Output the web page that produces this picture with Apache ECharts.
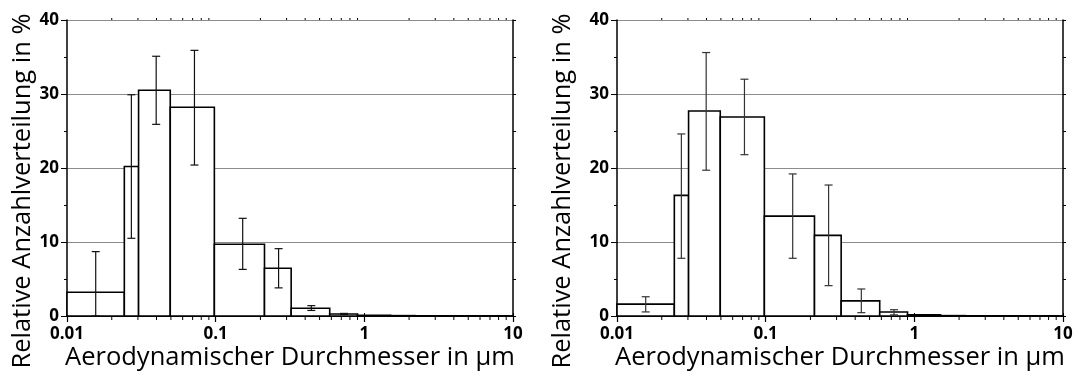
<!DOCTYPE html>
<html>
<head>
<meta charset="utf-8">
<script src="https://cdn.jsdelivr.net/npm/echarts@6/dist/echarts.min.js"></script>
<style>
  html, body { margin: 0; padding: 0; background: #fff; }
  #chart { width: 1076px; height: 374px; }
</style>
</head>
<body>
<div id="chart"></div>
<script>
// bin edges (µm) and bin centres used for the error bars
var binEdges = [0.01, 0.0243, 0.0303, 0.0495, 0.098, 0.213, 0.322, 0.585, 0.9, 1.5, 2.2, 9.3];
var binMids = [0.0156, 0.0271, 0.0398, 0.072, 0.152, 0.265, 0.44, 0.73, 1.16, 1.8, 4.5];

// left diagram
var leftValues = [3.2, 20.2, 30.5, 28.2, 9.7, 6.45, 1.05, 0.28, 0.1, 0.05, 0.02];
var leftLow = [0, 10.5, 25.9, 20.4, 6.3, 3.8, 0.75, 0.2, 0.1, 0.05, 0.02];
var leftHigh = [8.7, 29.9, 35.1, 35.9, 13.2, 9.1, 1.4, 0.35, 0.1, 0.05, 0.02];

// right diagram
var rightValues = [1.6, 16.3, 27.7, 26.9, 13.5, 10.9, 2.05, 0.55, 0.15, 0.05, 0.02];
var rightLow = [0.55, 7.8, 19.7, 21.8, 7.8, 4.1, 0.45, 0.15, 0.15, 0.05, 0.02];
var rightHigh = [2.6, 24.6, 35.6, 32.0, 19.2, 17.7, 3.65, 0.85, 0.15, 0.05, 0.02];

var minorTicks = [0.02, 0.03, 0.04, 0.05, 0.06, 0.07, 0.08, 0.09,
                  0.2, 0.3, 0.4, 0.5, 0.6, 0.7, 0.8, 0.9,
                  2, 3, 4, 5, 6, 7, 8, 9];
var xTickLabels = ['0.01', '0.1', '1', '10'];

var xTitle = 'Aerodynamischer Durchmesser in µm';
var yTitle = 'Relative Anzahlverteilung in %';

var chart = echarts.init(document.getElementById('chart'));

var grids = [
  { left: 67, top: 20, width: 446, height: 296 },
  { left: 617, top: 20, width: 446, height: 296 }
];

function makeAxes(i) {
  var xs = [
    {
      type: 'log', logBase: 10, min: 0.01, max: 10, gridIndex: i, position: 'bottom',
      axisLine: { lineStyle: { color: '#000', width: 1.5 } },
      axisTick: { show: true, inside: false, length: 6, lineStyle: { color: '#000', width: 1.2 } },
      axisLabel: {
        color: '#000', fontWeight: 'bold', fontSize: 17, fontFamily: 'Open Sans', margin: 10,
        formatter: function (v) {
          var idx = Math.round(Math.log10(v)) + 2;
          return xTickLabels[idx] || '';
        }
      },
      splitLine: { show: false }
    },
    {
      type: 'log', logBase: 10, min: 0.01, max: 10, gridIndex: i, position: 'top',
      axisLine: { lineStyle: { color: '#000', width: 1.5 } },
      axisTick: { show: true, inside: false, length: 3, lineStyle: { color: '#000' } },
      axisLabel: { show: false },
      splitLine: { show: false }
    }
  ];
  var ys = [
    {
      type: 'value', min: 0, max: 40, interval: 10, gridIndex: i, position: 'left',
      axisLine: { show: true, lineStyle: { color: '#000', width: 1.5 } },
      axisTick: { show: true, inside: false, length: 6, lineStyle: { color: '#000' } },
      minorTick: { show: true, splitNumber: 2, length: 3, lineStyle: { color: '#000' } },
      axisLabel: { color: '#000', fontWeight: 'bold', fontSize: 17, fontFamily: 'Open Sans', margin: 8 },
      splitLine: { show: true, lineStyle: { color: '#8c8c8c', width: 1 } }
    },
    {
      type: 'value', min: 0, max: 40, interval: 10, gridIndex: i, position: 'right',
      axisLine: { show: true, lineStyle: { color: '#000', width: 1.5 } },
      axisTick: { show: true, inside: false, length: 3, lineStyle: { color: '#000' } },
      minorTick: { show: true, splitNumber: 2, length: 3, lineStyle: { color: '#000' } },
      axisLabel: { show: false },
      splitLine: { show: false }
    }
  ];
  return { x: xs, y: ys };
}

var a0 = makeAxes(0), a1 = makeAxes(1);

function barSeries(values, gi) {
  return {
    type: 'custom',
    xAxisIndex: gi * 2, yAxisIndex: gi * 2,
    data: values.map(function (v, k) { return [binEdges[k], binEdges[k + 1], v]; }),
    renderItem: function (params, api) {
      var p0 = api.coord([api.value(0), api.value(2)]);
      var p1 = api.coord([api.value(1), 0]);
      return {
        type: 'rect',
        shape: { x: p0[0], y: p0[1], width: p1[0] - p0[0], height: p1[1] - p0[1] },
        style: { fill: '#fff', stroke: '#000', lineWidth: 1.6 }
      };
    },
    z: 3
  };
}

function errSeries(low, high, gi, color) {
  return {
    type: 'custom',
    xAxisIndex: gi * 2, yAxisIndex: gi * 2,
    data: low.map(function (l, k) { return [binMids[k], l, high[k]]; }),
    renderItem: function (params, api) {
      var lo = api.coord([api.value(0), api.value(1)]);
      var hi = api.coord([api.value(0), api.value(2)]);
      if (Math.abs(lo[1] - hi[1]) < 0.5) return null;
      var w = 4;
      var st = { stroke: color, lineWidth: 1.2 };
      return {
        type: 'group',
        children: [
          { type: 'line', shape: { x1: lo[0], y1: lo[1], x2: hi[0], y2: hi[1] }, style: st },
          { type: 'line', shape: { x1: hi[0] - w, y1: hi[1], x2: hi[0] + w, y2: hi[1] }, style: st },
          { type: 'line', shape: { x1: lo[0] - w, y1: lo[1], x2: lo[0] + w, y2: lo[1] }, style: st }
        ]
      };
    },
    z: 4
  };
}

function minorTickSeries(gi) {
  return {
    type: 'custom',
    xAxisIndex: gi * 2, yAxisIndex: gi * 2,
    clip: false, silent: true,
    data: minorTicks.map(function (v) { return [v]; }),
    renderItem: function (params, api) {
      var b = api.coord([api.value(0), 0]);
      var t = api.coord([api.value(0), 40]);
      var st = { stroke: '#000', lineWidth: 1 };
      return {
        type: 'group',
        children: [
          { type: 'line', shape: { x1: b[0], y1: b[1], x2: b[0], y2: b[1] + 4 }, style: st },
          { type: 'line', shape: { x1: t[0], y1: t[1], x2: t[0], y2: t[1] - 2 }, style: st }
        ]
      };
    },
    z: 5
  };
}

function titleTexts(gridLeft, gridWidth, yTitleX) {
  return [
    {
      type: 'text', x: gridLeft + gridWidth / 2, y: 358,
      style: { text: xTitle, font: '25.5px "Open Sans"', fill: '#000', textAlign: 'center', textVerticalAlign: 'middle' }
    },
    {
      type: 'text', x: yTitleX, y: 191, rotation: Math.PI / 2,
      style: { text: yTitle, font: '25.5px "Open Sans"', fill: '#000', textAlign: 'center', textVerticalAlign: 'middle' }
    }
  ];
}

var option = {
  animation: false,
  backgroundColor: '#fff',
  grid: grids,
  xAxis: a0.x.concat(a1.x),
  yAxis: a0.y.concat(a1.y),
  series: [
    barSeries(leftValues, 0),
    errSeries(leftLow, leftHigh, 0, '#111'),
    minorTickSeries(0),
    barSeries(rightValues, 1),
    errSeries(rightLow, rightHigh, 1, '#333'),
    minorTickSeries(1)
  ],
  graphic: titleTexts(67, 446, 23).concat(titleTexts(617, 446, 563))
};
chart.setOption(option);
</script>
</body>
</html>
